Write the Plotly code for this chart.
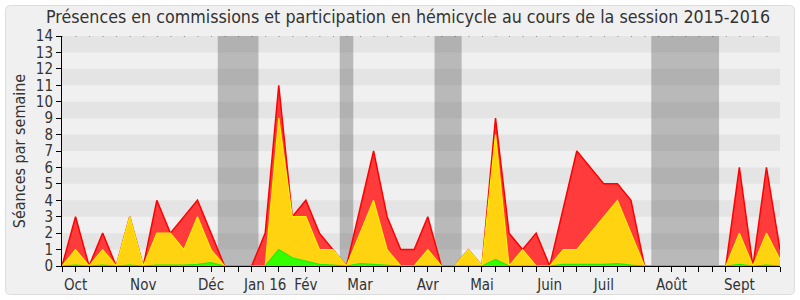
import plotly.graph_objects as go

weeks = list(range(54))
total = [0, 3, 0, 2, 0, 3, 0, 4, 2, 3, 4, 2, 0, 0, 0, 2, 11, 3, 4, 2, 1, 0, 3.5, 7, 3, 1, 1, 3, 0, 0,
         1, 0, 9, 2, 1, 2, 0, 3.5, 7, 6, 5, 5, 4, 0, 0, 0, 0, 0, 0, 0, 6, 0, 6, 1]
hemicycle = [0, 1, 0, 1, 0, 3, 0, 2, 2, 1, 3, 1, 0, 0, 0, 0, 9, 3, 3, 1, 1, 0, 2, 4, 1, 0, 0, 1, 0, 0,
             1, 0, 8, 0, 1, 0, 0, 1, 1, 2, 3, 4, 2, 0, 0, 0, 0, 0, 0, 0, 2, 0, 2, 0.4]
commission = [0, 0.05, 0, 0.05, 0, 0.05, 0, 0.05, 0.05, 0.05, 0.1, 0.2, 0, 0, 0, 0, 1, 0.5, 0.3, 0.1, 0.05, 0,
              0.15, 0.1, 0.05, 0, 0, 0, 0, 0, 0, 0, 0.4, 0, 0, 0, 0, 0.1, 0.1, 0.1, 0.1, 0.15, 0.05, 0,
              0, 0, 0, 0, 0, 0, 0.1, 0, 0.05, 0]
month_pos = [1, 6, 11, 15, 18, 22, 27, 31, 36, 40, 45, 50]
month_lbl = ["Oct", "Nov", "Déc", "Jan 16", "Fév", "Mar", "Avr", "Mai", "Juin", "Juil", "Août", "Sept"]
vacations = [(11.5, 14.5), (20.5, 21.5), (27.5, 29.5), (43.5, 48.5)]

FONT = "DejaVu Sans Condensed, DejaVu Sans"
L, R, T, B = 62, 780, 36, 266
W, H = 800, 300


def px(x):
    return (x - L) / (R - L)


def py(y):
    return (B - y) / (B - T)


fig = go.Figure()
fig.add_trace(go.Scatter(x=weeks, y=total, mode="lines", fill="tozeroy",
                         line=dict(color="#FF0000", width=1.5), fillcolor="#FF3B3B",
                         hoverinfo="skip", showlegend=False))
fig.add_trace(go.Scatter(x=weeks, y=hemicycle, mode="lines", fill="tozeroy",
                         line=dict(color="#FFEE00", width=1.2), fillcolor="#FFD30F",
                         hoverinfo="skip", showlegend=False))
fig.add_trace(go.Scatter(x=weeks, y=commission, mode="lines", fill="tozeroy",
                         line=dict(color="#22EE00", width=1.2), fillcolor="#33FF00",
                         hoverinfo="skip", showlegend=False))

shapes = []
# frame
r = 5
x0, y0, x1, y1 = 5.5, 5.5, 794.5, 294.5
path = (f"M {px(x0 + r)},{py(y0)} L {px(x1 - r)},{py(y0)} Q {px(x1)},{py(y0)} {px(x1)},{py(y0 + r)} "
        f"L {px(x1)},{py(y1 - r)} Q {px(x1)},{py(y1)} {px(x1 - r)},{py(y1)} "
        f"L {px(x0 + r)},{py(y1)} Q {px(x0)},{py(y1)} {px(x0)},{py(y1 - r)} "
        f"L {px(x0)},{py(y0 + r)} Q {px(x0)},{py(y0)} {px(x0 + r)},{py(y0)} Z")
shapes.append(dict(type="path", xref="paper", yref="paper", path=path, layer="below",
                   fillcolor="#F0F0F0", line=dict(color="#DCDCDC", width=1)))
# alternating bands
for k in range(1, 14, 2):
    shapes.append(dict(type="rect", xref="x", yref="y", x0=0, x1=53, y0=k, y1=k + 1,
                       fillcolor="#E4E4E4", line=dict(width=0), layer="below"))
# vacations
for a, b in vacations:
    shapes.append(dict(type="rect", xref="x", yref="y", x0=a, x1=b, y0=0, y1=14,
                       fillcolor="rgba(60,60,60,0.30)", line=dict(width=0), layer="below"))
# dotted top
shapes.append(dict(type="line", xref="x", yref="y", x0=0, x1=53, y0=14, y1=14,
                   line=dict(color="#333333", width=1, dash="1px,12.547px"), layer="above"))

ticktext = [""] * 54
for p, lbl in zip(month_pos, month_lbl):
    ticktext[p] = lbl

fig.update_layout(
    width=W, height=H,
    margin=dict(l=L, r=W - R, t=T, b=H - B, autoexpand=False),
    paper_bgcolor="white", plot_bgcolor="#FAFAFA",
    shapes=shapes,
    font=dict(family=FONT, size=15, color="#333333"),
    annotations=[dict(text="Présences en commissions et participation en hémicycle au cours de la session 2015-2016",
                      xref="paper", yref="paper", x=px(408), y=py(17.5), showarrow=False,
                      xanchor="center", yanchor="middle",
                      font=dict(family=FONT, size=17.7, color="#333333"))],
    xaxis=dict(range=[0, 53], tickmode="array", tickvals=weeks, ticktext=ticktext,
               showgrid=False, zeroline=False, showline=True, linecolor="#000000", linewidth=1,
               ticks="outside", ticklen=5, tickcolor="#000000", tickangle=0, automargin=False,
               tickfont=dict(family=FONT, size=15, color="#333333"), fixedrange=True),
    yaxis=dict(range=[0, 14], tickmode="linear", tick0=0, dtick=1, automargin=False,
               showgrid=False, zeroline=False, showline=True, linecolor="#000000", linewidth=1,
               ticks="outside", ticklen=5, tickcolor="#000000",
               tickfont=dict(family=FONT, size=15, color="#333333"),
               title=dict(text="Séances par semaine", standoff=6,
                          font=dict(family=FONT, size=16, color="#333333")),
               fixedrange=True),
)

fig.write_html("out.html")
